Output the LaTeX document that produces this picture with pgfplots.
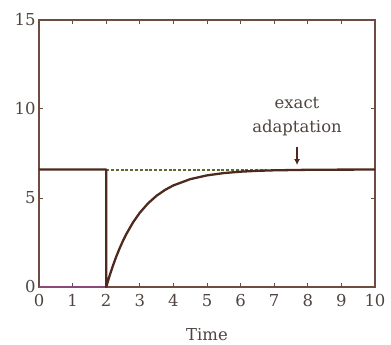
\documentclass[border=0pt]{standalone}
\usepackage{pgfplots}
\pgfplotsset{compat=1.18}
\usepackage{fontspec}
\setmainfont{DejaVu Serif}
\usetikzlibrary{arrows.meta}
\definecolor{axc}{HTML}{6E4C42}
\definecolor{curvec}{HTML}{4E2A1E}
\definecolor{dashc}{HTML}{5E6A2C}
\definecolor{txtc}{HTML}{4F4440}
\definecolor{purp}{HTML}{8A4A78}
\begin{document}
\begin{tikzpicture}
\begin{axis}[
  scale only axis,
  width=336bp, height=267bp,
  xmin=0, xmax=10, ymin=0, ymax=15,
  xtick={0,1,...,10}, ytick={0,5,10,15},
  tick align=inside,
  major tick length=4bp,
  axis line style={axc, line width=1.1bp},
  every tick/.style={axc, line width=1bp},
  tick label style={font=\fontsize{16.5}{19}\selectfont, text=txtc},
  /pgf/number format/assume math mode=true,
  xticklabel style={yshift=-4bp},
  xlabel={Time},
  xlabel style={at={(axis description cs:0.5,0)}, anchor=base, yshift=-53bp, font=\fontsize{16.5}{19}\selectfont, text=txtc},
  clip=false,
]
\addplot[purp, line width=1.1bp] coordinates {(0,0) (2,0)};
\addplot[dashc, line width=2bp, dash pattern=on 3bp off 1.8bp] coordinates {(2,6.6) (6.8,6.6)};
\addplot[curvec, line width=2.3bp, line join=round] coordinates {
(0,6.6) (2,6.6) (2,0)
(2.1,0.628) (2.2,1.197) (2.3,1.711) (2.4,2.176) (2.5,2.597) (2.6,2.978)
(2.8,3.634) (3.0,4.172) (3.25,4.709) (3.5,5.128) (3.75,5.453) (4.0,5.707)
(4.5,6.058) (5.0,6.271) (5.5,6.401) (6.0,6.479) (6.5,6.527) (7.0,6.556)
(8.0,6.584) (9.0,6.594) (10,6.598)};
\node[anchor=south, align=center, inner sep=0pt, text=txtc,
  font=\fontsize{16.5}{25}\selectfont] at (axis cs:7.68,8.45) {exact\\adaptation};
\draw[curvec, line width=1.2bp, -{Latex[length=6bp,width=6bp]}] (axis cs:7.68,7.85) -- (axis cs:7.68,6.85);
\end{axis}
\pgfresetboundingbox
\path ([shift={(-39bp,-58bp)}]current axis.south west) rectangle ([shift={(16bp,20bp)}]current axis.north east);
\end{tikzpicture}
\end{document}
